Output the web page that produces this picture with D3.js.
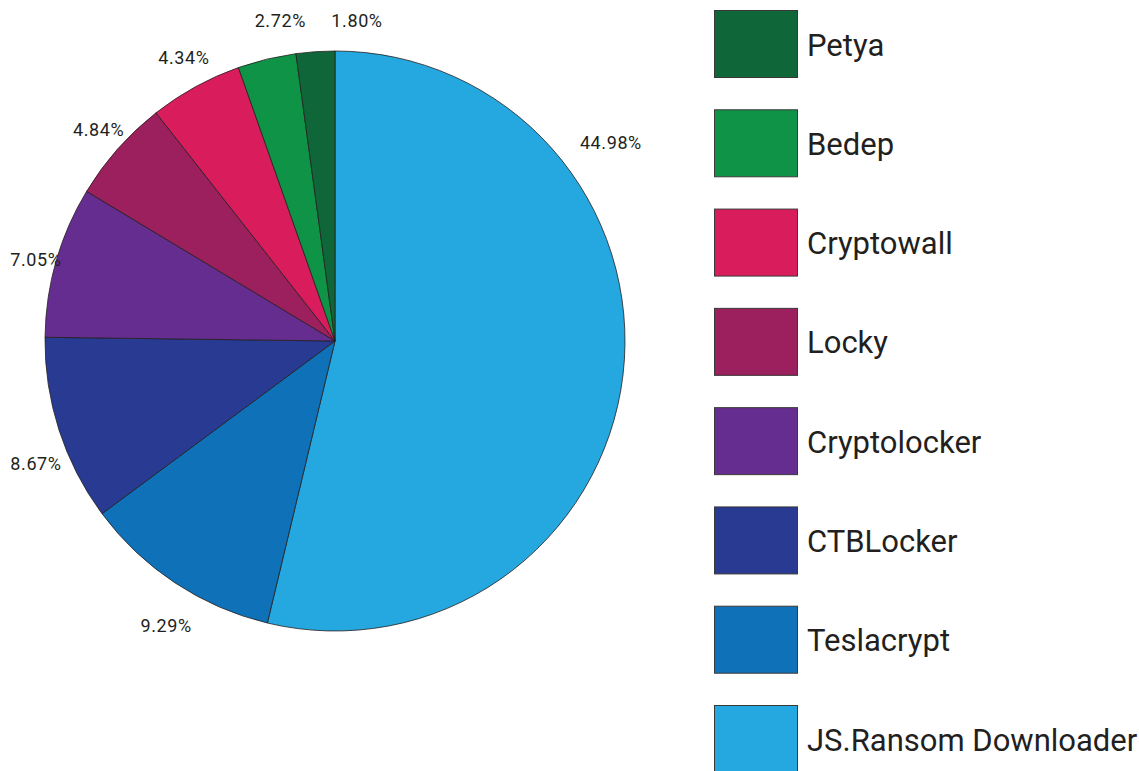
<!DOCTYPE html>
<html>
<head>
<meta charset="utf-8">
<script src="https://cdn.jsdelivr.net/npm/d3@7"></script>
<style>
  html, body { margin: 0; padding: 0; background: #fff; }
  svg { display: block; font-family: Roboto, "Noto Sans", sans-serif; }
</style>
</head>
<body>
<svg id="chart" width="1139" height="771"></svg>
<script>
// Ransomware family shares, clockwise from 12 o'clock
const families = ["JS.Ransom Downloader", "Teslacrypt", "CTBLocker", "Cryptolocker",
                  "Locky", "Cryptowall", "Bedep", "Petya"];
const shares = [44.98, 9.29, 8.67, 7.05, 4.84, 4.34, 2.72, 1.80];
const colors = ["#25a8e0", "#0f72b9", "#283a92", "#662d91",
                "#9c1f5e", "#d91d5c", "#0f9447", "#0f6638"];
// legend lists the families from the last slice back to the first
const legendOrder = families.slice().reverse();

// label placement: [angle shift from slice middle (deg), distance from centre (px)]
const labelAdjust = [[-42.5, 340], [-2.8, 331], [-4.3, 323], [-0.7, 310],
                     [0.3, 317], [0.7, 321], [3.9, 325], [7.8, 321]];

const svg = d3.select("#chart");
const cx = 335, cy = 341, radius = 290;

const color = d3.scaleOrdinal().domain(families).range(colors);

const pie = d3.pie().sort(null).value(d => d.value);
const arcs = pie(families.map((f, i) => ({ name: f, value: shares[i] })));
const arc = d3.arc().innerRadius(0).outerRadius(radius);

const g = svg.append("g").attr("transform", `translate(${cx},${cy})`);

g.selectAll("path.slice")
  .data(arcs)
  .join("path")
  .attr("class", "slice")
  .attr("d", arc)
  .attr("fill", d => color(d.data.name))
  .attr("stroke", "#231f20")
  .attr("stroke-width", 0.8)
  .attr("stroke-linejoin", "round");

const labelPos = (d, i) => {
  const a = (d.startAngle + d.endAngle) / 2 + labelAdjust[i][0] * Math.PI / 180;
  return [Math.sin(a) * labelAdjust[i][1], -Math.cos(a) * labelAdjust[i][1]];
};

g.selectAll("text.pct")
  .data(arcs)
  .join("text")
  .attr("class", "pct")
  .attr("x", (d, i) => labelPos(d, i)[0])
  .attr("y", (d, i) => labelPos(d, i)[1])
  .attr("text-anchor", "middle")
  .attr("dominant-baseline", "central")
  .attr("font-size", 18)
  .attr("letter-spacing", 0.6)
  .attr("fill", "#231f20")
  .text(d => d.data.value.toFixed(2) + "%");

// legend
const legendY = d3.scalePoint().domain(legendOrder).range([10, 705]);
const legend = svg.append("g").selectAll("g")
  .data(legendOrder)
  .join("g")
  .attr("transform", d => `translate(714,${legendY(d)})`);

legend.append("rect")
  .attr("x", 0.5).attr("y", 0.5)
  .attr("width", 83).attr("height", 67)
  .attr("fill", d => color(d))
  .attr("stroke", "#3a3a3a")
  .attr("stroke-width", 1);

legend.append("text")
  .attr("x", 93)
  .attr("y", 35)
  .attr("dominant-baseline", "central")
  .attr("font-size", 31)
  .attr("fill", "#231f20")
  .text(d => d);
</script>
</body>
</html>
